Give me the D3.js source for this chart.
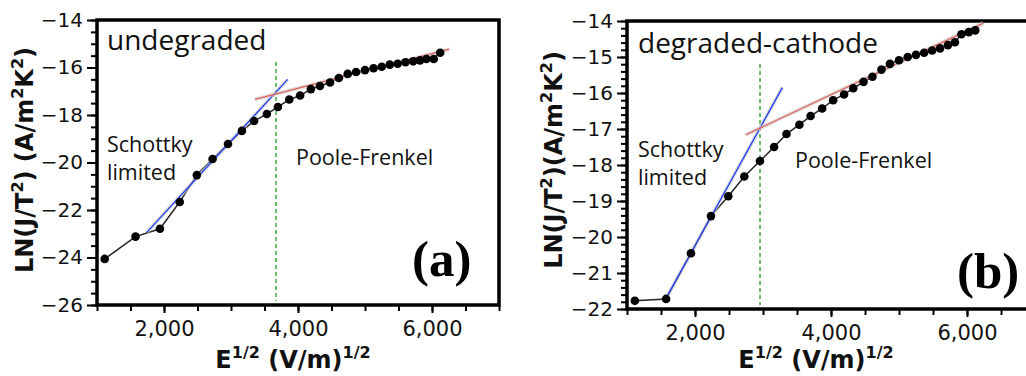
<!DOCTYPE html>
<meta charset="utf-8">
<style>
body { margin: 0; background: #fff; }
svg { display: block; }
.tick text { font-family: "DejaVu Sans", sans-serif; fill: #111; }
.tick line { stroke: #000; stroke-width: 2; }
.note { font-family: "Open Sans", sans-serif; fill: #111; }
.axlab { font-family: "DejaVu Sans", sans-serif; font-weight: bold; fill: #111; }
.tag { font-family: "Liberation Serif", serif; font-weight: bold; fill: #000; }
</style>
<svg width="1026" height="376"></svg>
<script src="https://d3js.org/d3.v7.min.js"></script>
<script>

// E^1/2 values, shared by both samples
var fieldX = [1115, 1575, 1940, 2235, 2490, 2725, 2955, 3163, 3345, 3535,
              3700, 3870, 4032, 4192, 4328, 4478, 4610, 4742, 4867, 5000,
              5128, 5250, 5370, 5488, 5604, 5720, 5822, 5918, 6026, 6122];

// LN(J/T^2), undegraded
var lnUndeg = [-24.06, -23.12, -22.79, -21.66, -20.53, -19.85, -19.22, -18.67, -18.25, -17.96,
               -17.66, -17.35, -17.18, -16.91, -16.78, -16.63, -16.44, -16.27, -16.19, -16.11,
               -16.03, -15.97, -15.88, -15.84, -15.78, -15.74, -15.70, -15.64, -15.64, -15.38];

// LN(J/T^2), degraded cathode
var lnDeg = [-21.77, -21.72, -20.45, -19.42, -18.87, -18.32, -17.89, -17.50, -17.14, -16.88,
             -16.64, -16.43, -16.20, -16.04, -15.87, -15.69, -15.55, -15.35, -15.19, -15.09,
             -15.00, -14.94, -14.88, -14.82, -14.76, -14.67, -14.59, -14.37, -14.31, -14.26];

// fitted lines (end points) and crossover field
var schottkyA = [[1746, -22.93], [3846, -16.50]];
var pooleA = [[3358, -17.34], [6258, -15.23]];
var crossA = 3672;
var schottkyB = [[1569, -21.72], [3284, -15.85]];
var pooleB = [[2746, -17.16], [6240, -14.06]];
var crossB = 2956;

var xMajor = [2000, 4000, 6000];
var yMajorA = [-26, -24, -22, -20, -18, -16, -14];
var yMajorB = [-22, -21, -20, -19, -18, -17, -16, -15, -14];

var svg = d3.select("svg");

function rich(sel, parts, big, small) {
  // parts: [text, isSuper]
  var up = false;
  parts.forEach(function(p) {
    var t = sel.append("tspan").text(p[0]);
    if (p[1] && !up) { t.attr("dy", -big * 0.42).attr("font-size", small); up = true; }
    else if (!p[1] && up) { t.attr("dy", big * 0.42).attr("font-size", big); up = false; }
    else if (p[1]) t.attr("font-size", small);
  });
}

function drawPanel(p) {
  var g = svg.append("g");
  var x = d3.scaleLinear().domain([1000, 7000]).range([p.left, p.right]);
  var y = d3.scaleLinear().domain(p.yDomain).range([p.bottom, p.top]);

  // minor + major ticks
  var xa = g.append("g").attr("transform", "translate(0," + p.bottom + ")");
  xa.call(d3.axisBottom(x).tickValues(d3.range(1000, 7001, 500)).tickSize(6).tickFormat(""));
  xa.append("g").call(d3.axisBottom(x).tickValues(xMajor).tickSize(8).tickPadding(8)
      .tickFormat(d3.format(",")));
  xa.selectAll(".domain").remove();
  xa.selectAll("text").attr("font-size", 21);

  var ya = g.append("g").attr("transform", "translate(" + p.left + ",0)");
  ya.call(d3.axisLeft(y).tickValues(d3.range(p.yDomain[0], p.yDomain[1] + 0.001, p.minor)).tickSize(6).tickFormat(""));
  ya.append("g").call(d3.axisLeft(y).tickValues(p.yMajor).tickSize(10).tickPadding(4));
  ya.selectAll(".domain").remove();
  ya.selectAll("text").attr("font-size", 20);

  g.append("rect")
      .attr("x", p.left).attr("y", p.top)
      .attr("width", p.right - p.left).attr("height", p.bottom - p.top)
      .attr("fill", "none").attr("stroke", "#000").attr("stroke-width", 3.5);

  var line = d3.line().x(function(d) { return x(d[0]); }).y(function(d) { return y(d[1]); });
  var pts = d3.zip(fieldX, p.values);

  // crossover marker
  g.append("line")
      .attr("x1", x(p.cross)).attr("x2", x(p.cross))
      .attr("y1", p.crossTop).attr("y2", p.bottom - 4)
      .attr("stroke", "#1fa01f").attr("stroke-width", 1.3).attr("stroke-dasharray", "4,3");

  g.append("path").datum(pts).attr("d", line)
      .attr("fill", "none").attr("stroke", "#222").attr("stroke-width", 1.5);

  // fits, with a soft grey halo
  [[p.schottky, "#1f3cf0"], [p.poole, "#e0605a"]].forEach(function(f) {
    g.append("path").datum(f[0]).attr("d", line)
        .attr("fill", "none").attr("stroke", "#ccc").attr("stroke-width", 4).attr("opacity", 0.6);
    g.append("path").datum(f[0]).attr("d", line)
        .attr("fill", "none").attr("stroke", f[1]).attr("stroke-width", 1.3);
  });

  g.selectAll("circle.pt").data(pts).enter().append("circle")
      .attr("class", "pt")
      .attr("cx", function(d) { return x(d[0]); })
      .attr("cy", function(d) { return y(d[1]); })
      .attr("r", 4.3).attr("fill", "#000");

  // texts
  g.append("text").attr("class", "note").attr("x", p.titleX).attr("y", p.titleY)
      .attr("font-size", 28).text(p.title);
  g.append("text").attr("class", "note").attr("x", p.schX).attr("y", p.schY)
      .attr("font-size", 21.5).text("Schottky");
  g.append("text").attr("class", "note").attr("x", p.schX).attr("y", p.schY + 28)
      .attr("font-size", 21.5).text("limited");
  g.append("text").attr("class", "note").attr("x", p.pfX).attr("y", p.pfY)
      .attr("font-size", 21.5).text("Poole-Frenkel");
  g.append("text").attr("class", "tag").attr("x", p.tagX).attr("y", p.tagY)
      .attr("font-size", 51).text(p.tag);

  var yl = g.append("text").attr("class", "axlab")
      .attr("transform", "translate(" + p.ylabX + "," + p.ylabY + ") rotate(-90)")
      .attr("text-anchor", "middle").attr("font-size", 24);
  rich(yl, p.ylab, 24, 16);

  var xl = g.append("text").attr("class", "axlab")
      .attr("x", p.xlabX).attr("y", 368)
      .attr("text-anchor", "middle").attr("font-size", 24);
  rich(xl, [["E", 0], ["1/2", 1], [" (V/m)", 0], ["1/2", 1]], 24, 16);
}

drawPanel({
  left: 97, right: 499, top: 20, bottom: 305,
  yDomain: [-26, -14], yMajor: yMajorA, minor: 0.5,
  values: lnUndeg, schottky: schottkyA, poole: pooleA, cross: crossA, crossTop: 62,
  title: "undegraded", titleX: 107, titleY: 50,
  schX: 107, schY: 152, pfX: 296, pfY: 165,
  tag: "(a)", tagX: 412, tagY: 276,
  ylab: [["LN(J/T", 0], ["2", 1], [") (A/m", 0], ["2", 1], ["K", 0], ["2", 1], [")", 0]],
  ylabX: 33, ylabY: 160, xlabX: 293
});

drawPanel({
  left: 627, right: 1035, top: 21, bottom: 309,
  yDomain: [-22, -14], yMajor: yMajorB, minor: 0.2,
  values: lnDeg, schottky: schottkyB, poole: pooleB, cross: crossB, crossTop: 64,
  title: "degraded-cathode", titleX: 638, titleY: 53,
  schX: 638, schY: 157, pfX: 795, pfY: 168,
  tag: "(b)", tagX: 957, tagY: 288,
  ylab: [["LN(J/T", 0], ["2", 1], [")(A/m", 0], ["2", 1], ["K", 0], ["2", 1], [")", 0]],
  ylabX: 562, ylabY: 160, xlabX: 816
});

</script>
